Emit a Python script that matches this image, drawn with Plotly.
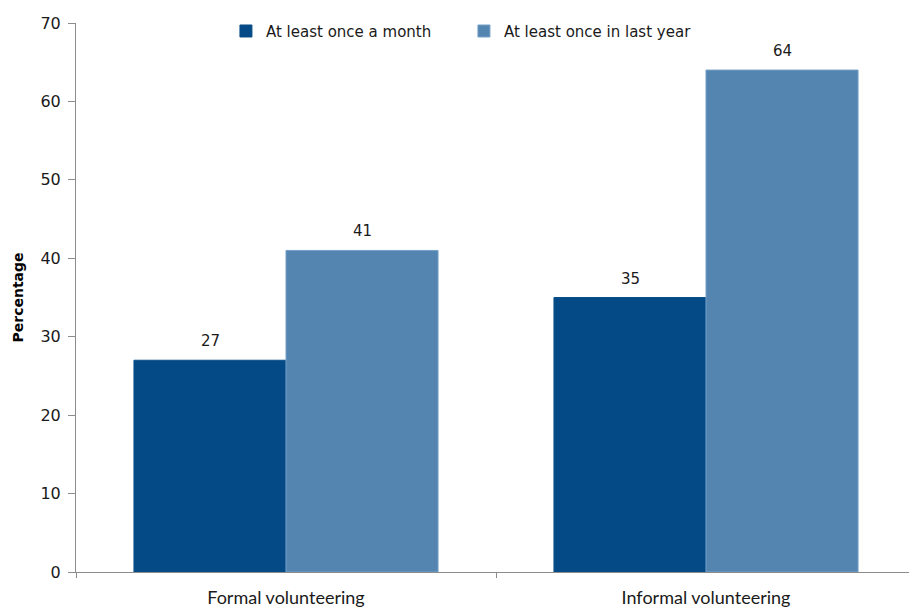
import plotly.graph_objects as go

categories = ["Formal volunteering", "Informal volunteering"]
series_names = ["At least once a month", "At least once in last year"]
monthly = [27, 35]
yearly = [41, 64]
y_ticks = [0, 10, 20, 30, 40, 50, 60, 70]

dark = "#034a86"
light = "#5485b0"
axis_grey = "#8c8c8c"

fig = go.Figure()
fig.add_trace(go.Bar(
    x=categories, y=monthly, name=series_names[0],
    marker=dict(color=dark, line=dict(color="#0b4f89", width=1)),
))
fig.add_trace(go.Bar(
    x=categories, y=yearly, name=series_names[1],
    marker=dict(color=light, line=dict(color="#74a0c8", width=1)),
))

# value labels above each bar
bar_offset = 76
for vals, shift in ((monthly, -bar_offset), (yearly, bar_offset)):
    for cat, v in zip(categories, vals):
        fig.add_annotation(
            x=cat, y=v, text=str(v), showarrow=False,
            xshift=shift, yshift=8, yanchor="bottom",
            font=dict(family="DejaVu Sans", size=15, color="#1a1a1a"),
        )

fig.update_layout(
    width=909, height=607,
    margin=dict(l=76, r=0, t=23, b=35),
    plot_bgcolor="white", paper_bgcolor="white",
    barmode="group", bargap=0.276, bargroupgap=0,
    showlegend=True,
    legend=dict(
        orientation="h", x=0.18, xanchor="left", y=0.985, yanchor="middle",
        entrywidth=193, entrywidthmode="pixels",
        font=dict(family="DejaVu Sans", size=15, color="#1a1a1a"),
        bgcolor="rgba(0,0,0,0)", traceorder="normal",
    ),
    xaxis=dict(
        type="category", range=[-0.5, -0.5 + 833 / 420],
        showline=True, linecolor=axis_grey, linewidth=1,
        ticks="outside", tickson="boundaries", ticklen=5, tickcolor=axis_grey,
        ticklabelstandoff=9,
        tickfont=dict(family="Lato", size=18, color="#1a1a1a"),
        showgrid=False, zeroline=False,
    ),
    yaxis=dict(
        range=[0, 70], tickvals=y_ticks,
        showline=True, linecolor=axis_grey, linewidth=1,
        ticks="outside", ticklen=7, tickcolor=axis_grey,
        ticklabelstandoff=4,
        tickfont=dict(family="DejaVu Sans", size=16, color="#1a1a1a"),
        showgrid=False, zeroline=False,
        title=dict(text="<b>Percentage</b>", standoff=13,
                   font=dict(family="DejaVu Sans", size=14, color="#000000")),
    ),
)

fig.write_html("out.html")
